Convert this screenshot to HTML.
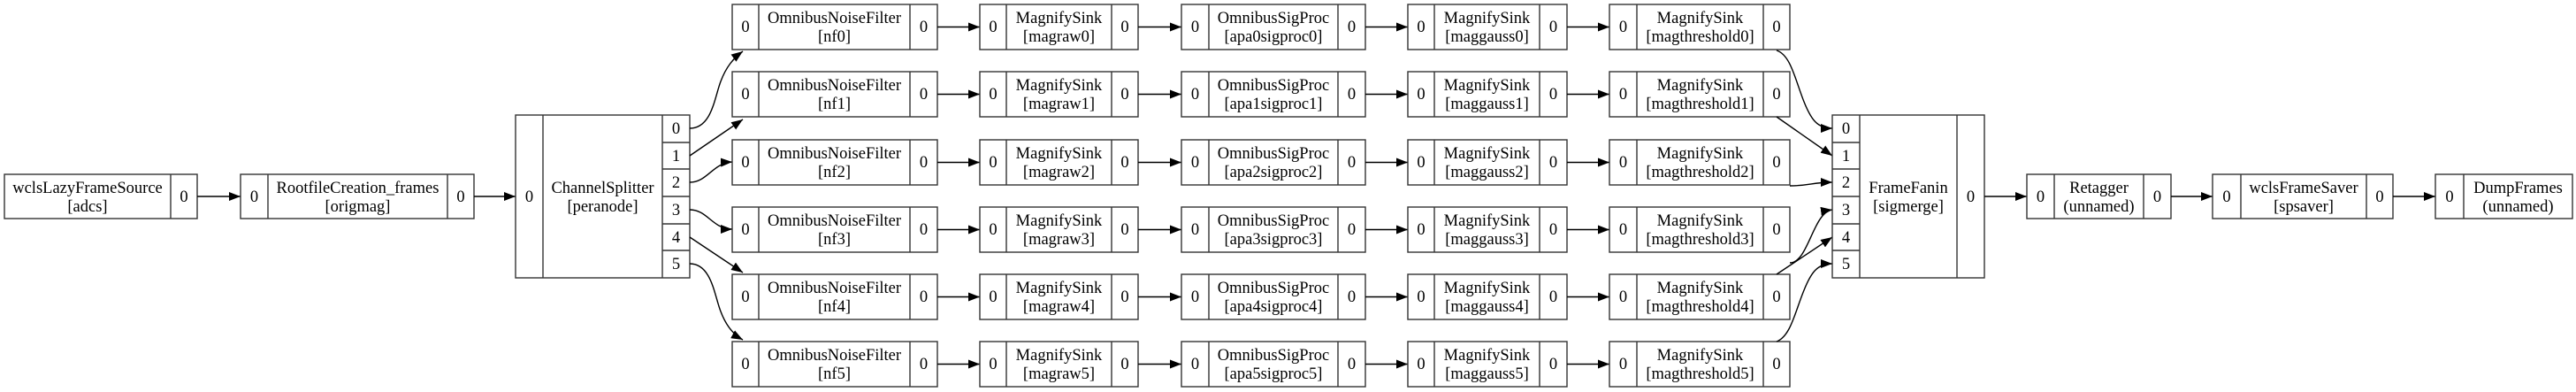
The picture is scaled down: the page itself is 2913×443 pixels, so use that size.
<!DOCTYPE html>
<html><head><meta charset="utf-8"><style>
html,body{margin:0;padding:0;background:#fff;}
svg{display:block;}
text{font-family:"Liberation Serif",serif;font-size:18.5px;fill:#000;text-anchor:middle;}
.b{fill:none;stroke:#333;stroke-width:1.4;}
.e{fill:none;stroke:#000;stroke-width:1.4;marker-end:url(#ah);}
</style></head><body>
<svg width="2913" height="443" viewBox="0 0 2913 443" xmlns="http://www.w3.org/2000/svg">
<defs><marker id="ah" markerUnits="userSpaceOnUse" markerWidth="14" markerHeight="10" refX="13" refY="5" orient="auto"><path d="M0,0 L13,5 L0,10 z" fill="#000"/></marker></defs>

<!-- left nodes -->
<rect class="b" x="5" y="197" width="218" height="50"/><line class="b" x1="193" y1="197" x2="193" y2="247"/>
<text x="99" y="218">wclsLazyFrameSource</text><text x="99" y="239">[adcs]</text><text x="208" y="228">0</text>
<line class="e" x1="223" y1="222" x2="272" y2="222"/>
<rect class="b" x="272" y="197" width="264" height="50"/><line class="b" x1="303" y1="197" x2="303" y2="247"/><line class="b" x1="506" y1="197" x2="506" y2="247"/>
<text x="287.5" y="228">0</text><text x="404.5" y="218">RootfileCreation_frames</text><text x="404.5" y="239">[origmag]</text><text x="521" y="228">0</text>
<line class="e" x1="536" y1="222" x2="583" y2="222"/>
<rect class="b" x="583" y="130" width="197" height="184"/><line class="b" x1="614" y1="130" x2="614" y2="314"/><line class="b" x1="749" y1="130" x2="749" y2="314"/>
<line class="b" x1="749" y1="161" x2="780" y2="161"/><line class="b" x1="749" y1="191" x2="780" y2="191"/><line class="b" x1="749" y1="222" x2="780" y2="222"/><line class="b" x1="749" y1="253" x2="780" y2="253"/><line class="b" x1="749" y1="283" x2="780" y2="283"/>
<text x="598.5" y="228">0</text><text x="681.5" y="218">ChannelSplitter</text><text x="681.5" y="239">[peranode]</text>
<text x="764.5" y="151">0</text><text x="764.5" y="182">1</text><text x="764.5" y="212">2</text><text x="764.5" y="243">3</text><text x="764.5" y="274">4</text><text x="764.5" y="304">5</text>

<!-- splitter edges -->
<path class="e" d="M780,145 C805,145 808,110 815,92 C821,76 829,66 840,58"/>
<path class="e" d="M780,176 L840,135"/>
<path class="e" d="M780,206 C800,206 806,184 828,183"/>
<path class="e" d="M780,237 C800,237 806,259 828,259"/>
<path class="e" d="M780,268 L840,308"/>
<path class="e" d="M780,298 C805,298 808,335 815,352 C821,368 829,378 840,384"/>

<!-- rows -->
<g transform="translate(0,5)">
<rect class="b" x="828" y="0" width="232" height="51"/><line class="b" x1="858" y1="0" x2="858" y2="51"/><line class="b" x1="1029" y1="0" x2="1029" y2="51"/>
<text x="843" y="31">0</text><text x="943.5" y="21">OmnibusNoiseFilter</text><text x="943.5" y="42">[nf0]</text><text x="1044.5" y="31">0</text>
<line class="e" x1="1060" y1="25.5" x2="1108" y2="25.5"/>
<rect class="b" x="1108" y="0" width="179" height="51"/><line class="b" x1="1138" y1="0" x2="1138" y2="51"/><line class="b" x1="1257" y1="0" x2="1257" y2="51"/>
<text x="1123" y="31">0</text><text x="1197.5" y="21">MagnifySink</text><text x="1197.5" y="42">[magraw0]</text><text x="1272" y="31">0</text>
<line class="e" x1="1287" y1="25.5" x2="1336" y2="25.5"/>
<rect class="b" x="1336" y="0" width="208" height="51"/><line class="b" x1="1367" y1="0" x2="1367" y2="51"/><line class="b" x1="1513" y1="0" x2="1513" y2="51"/>
<text x="1351.5" y="31">0</text><text x="1440" y="21">OmnibusSigProc</text><text x="1440" y="42">[apa0sigproc0]</text><text x="1528.5" y="31">0</text>
<line class="e" x1="1544" y1="25.5" x2="1592" y2="25.5"/>
<rect class="b" x="1592" y="0" width="180" height="51"/><line class="b" x1="1622" y1="0" x2="1622" y2="51"/><line class="b" x1="1741" y1="0" x2="1741" y2="51"/>
<text x="1607" y="31">0</text><text x="1681.5" y="21">MagnifySink</text><text x="1681.5" y="42">[maggauss0]</text><text x="1756.5" y="31">0</text>
<line class="e" x1="1772" y1="25.5" x2="1820" y2="25.5"/>
<rect class="b" x="1820" y="0" width="204" height="51"/><line class="b" x1="1851" y1="0" x2="1851" y2="51"/><line class="b" x1="1994" y1="0" x2="1994" y2="51"/>
<text x="1835.5" y="31">0</text><text x="1922.5" y="21">MagnifySink</text><text x="1922.5" y="42">[magthreshold0]</text><text x="2009" y="31">0</text>
</g>
<g transform="translate(0,81)">
<rect class="b" x="828" y="0" width="232" height="51"/><line class="b" x1="858" y1="0" x2="858" y2="51"/><line class="b" x1="1029" y1="0" x2="1029" y2="51"/>
<text x="843" y="31">0</text><text x="943.5" y="21">OmnibusNoiseFilter</text><text x="943.5" y="42">[nf1]</text><text x="1044.5" y="31">0</text>
<line class="e" x1="1060" y1="25.5" x2="1108" y2="25.5"/>
<rect class="b" x="1108" y="0" width="179" height="51"/><line class="b" x1="1138" y1="0" x2="1138" y2="51"/><line class="b" x1="1257" y1="0" x2="1257" y2="51"/>
<text x="1123" y="31">0</text><text x="1197.5" y="21">MagnifySink</text><text x="1197.5" y="42">[magraw1]</text><text x="1272" y="31">0</text>
<line class="e" x1="1287" y1="25.5" x2="1336" y2="25.5"/>
<rect class="b" x="1336" y="0" width="208" height="51"/><line class="b" x1="1367" y1="0" x2="1367" y2="51"/><line class="b" x1="1513" y1="0" x2="1513" y2="51"/>
<text x="1351.5" y="31">0</text><text x="1440" y="21">OmnibusSigProc</text><text x="1440" y="42">[apa1sigproc1]</text><text x="1528.5" y="31">0</text>
<line class="e" x1="1544" y1="25.5" x2="1592" y2="25.5"/>
<rect class="b" x="1592" y="0" width="180" height="51"/><line class="b" x1="1622" y1="0" x2="1622" y2="51"/><line class="b" x1="1741" y1="0" x2="1741" y2="51"/>
<text x="1607" y="31">0</text><text x="1681.5" y="21">MagnifySink</text><text x="1681.5" y="42">[maggauss1]</text><text x="1756.5" y="31">0</text>
<line class="e" x1="1772" y1="25.5" x2="1820" y2="25.5"/>
<rect class="b" x="1820" y="0" width="204" height="51"/><line class="b" x1="1851" y1="0" x2="1851" y2="51"/><line class="b" x1="1994" y1="0" x2="1994" y2="51"/>
<text x="1835.5" y="31">0</text><text x="1922.5" y="21">MagnifySink</text><text x="1922.5" y="42">[magthreshold1]</text><text x="2009" y="31">0</text>
</g>
<g transform="translate(0,158)">
<rect class="b" x="828" y="0" width="232" height="51"/><line class="b" x1="858" y1="0" x2="858" y2="51"/><line class="b" x1="1029" y1="0" x2="1029" y2="51"/>
<text x="843" y="31">0</text><text x="943.5" y="21">OmnibusNoiseFilter</text><text x="943.5" y="42">[nf2]</text><text x="1044.5" y="31">0</text>
<line class="e" x1="1060" y1="25.5" x2="1108" y2="25.5"/>
<rect class="b" x="1108" y="0" width="179" height="51"/><line class="b" x1="1138" y1="0" x2="1138" y2="51"/><line class="b" x1="1257" y1="0" x2="1257" y2="51"/>
<text x="1123" y="31">0</text><text x="1197.5" y="21">MagnifySink</text><text x="1197.5" y="42">[magraw2]</text><text x="1272" y="31">0</text>
<line class="e" x1="1287" y1="25.5" x2="1336" y2="25.5"/>
<rect class="b" x="1336" y="0" width="208" height="51"/><line class="b" x1="1367" y1="0" x2="1367" y2="51"/><line class="b" x1="1513" y1="0" x2="1513" y2="51"/>
<text x="1351.5" y="31">0</text><text x="1440" y="21">OmnibusSigProc</text><text x="1440" y="42">[apa2sigproc2]</text><text x="1528.5" y="31">0</text>
<line class="e" x1="1544" y1="25.5" x2="1592" y2="25.5"/>
<rect class="b" x="1592" y="0" width="180" height="51"/><line class="b" x1="1622" y1="0" x2="1622" y2="51"/><line class="b" x1="1741" y1="0" x2="1741" y2="51"/>
<text x="1607" y="31">0</text><text x="1681.5" y="21">MagnifySink</text><text x="1681.5" y="42">[maggauss2]</text><text x="1756.5" y="31">0</text>
<line class="e" x1="1772" y1="25.5" x2="1820" y2="25.5"/>
<rect class="b" x="1820" y="0" width="204" height="51"/><line class="b" x1="1851" y1="0" x2="1851" y2="51"/><line class="b" x1="1994" y1="0" x2="1994" y2="51"/>
<text x="1835.5" y="31">0</text><text x="1922.5" y="21">MagnifySink</text><text x="1922.5" y="42">[magthreshold2]</text><text x="2009" y="31">0</text>
</g>
<g transform="translate(0,234)">
<rect class="b" x="828" y="0" width="232" height="51"/><line class="b" x1="858" y1="0" x2="858" y2="51"/><line class="b" x1="1029" y1="0" x2="1029" y2="51"/>
<text x="843" y="31">0</text><text x="943.5" y="21">OmnibusNoiseFilter</text><text x="943.5" y="42">[nf3]</text><text x="1044.5" y="31">0</text>
<line class="e" x1="1060" y1="25.5" x2="1108" y2="25.5"/>
<rect class="b" x="1108" y="0" width="179" height="51"/><line class="b" x1="1138" y1="0" x2="1138" y2="51"/><line class="b" x1="1257" y1="0" x2="1257" y2="51"/>
<text x="1123" y="31">0</text><text x="1197.5" y="21">MagnifySink</text><text x="1197.5" y="42">[magraw3]</text><text x="1272" y="31">0</text>
<line class="e" x1="1287" y1="25.5" x2="1336" y2="25.5"/>
<rect class="b" x="1336" y="0" width="208" height="51"/><line class="b" x1="1367" y1="0" x2="1367" y2="51"/><line class="b" x1="1513" y1="0" x2="1513" y2="51"/>
<text x="1351.5" y="31">0</text><text x="1440" y="21">OmnibusSigProc</text><text x="1440" y="42">[apa3sigproc3]</text><text x="1528.5" y="31">0</text>
<line class="e" x1="1544" y1="25.5" x2="1592" y2="25.5"/>
<rect class="b" x="1592" y="0" width="180" height="51"/><line class="b" x1="1622" y1="0" x2="1622" y2="51"/><line class="b" x1="1741" y1="0" x2="1741" y2="51"/>
<text x="1607" y="31">0</text><text x="1681.5" y="21">MagnifySink</text><text x="1681.5" y="42">[maggauss3]</text><text x="1756.5" y="31">0</text>
<line class="e" x1="1772" y1="25.5" x2="1820" y2="25.5"/>
<rect class="b" x="1820" y="0" width="204" height="51"/><line class="b" x1="1851" y1="0" x2="1851" y2="51"/><line class="b" x1="1994" y1="0" x2="1994" y2="51"/>
<text x="1835.5" y="31">0</text><text x="1922.5" y="21">MagnifySink</text><text x="1922.5" y="42">[magthreshold3]</text><text x="2009" y="31">0</text>
</g>
<g transform="translate(0,310)">
<rect class="b" x="828" y="0" width="232" height="51"/><line class="b" x1="858" y1="0" x2="858" y2="51"/><line class="b" x1="1029" y1="0" x2="1029" y2="51"/>
<text x="843" y="31">0</text><text x="943.5" y="21">OmnibusNoiseFilter</text><text x="943.5" y="42">[nf4]</text><text x="1044.5" y="31">0</text>
<line class="e" x1="1060" y1="25.5" x2="1108" y2="25.5"/>
<rect class="b" x="1108" y="0" width="179" height="51"/><line class="b" x1="1138" y1="0" x2="1138" y2="51"/><line class="b" x1="1257" y1="0" x2="1257" y2="51"/>
<text x="1123" y="31">0</text><text x="1197.5" y="21">MagnifySink</text><text x="1197.5" y="42">[magraw4]</text><text x="1272" y="31">0</text>
<line class="e" x1="1287" y1="25.5" x2="1336" y2="25.5"/>
<rect class="b" x="1336" y="0" width="208" height="51"/><line class="b" x1="1367" y1="0" x2="1367" y2="51"/><line class="b" x1="1513" y1="0" x2="1513" y2="51"/>
<text x="1351.5" y="31">0</text><text x="1440" y="21">OmnibusSigProc</text><text x="1440" y="42">[apa4sigproc4]</text><text x="1528.5" y="31">0</text>
<line class="e" x1="1544" y1="25.5" x2="1592" y2="25.5"/>
<rect class="b" x="1592" y="0" width="180" height="51"/><line class="b" x1="1622" y1="0" x2="1622" y2="51"/><line class="b" x1="1741" y1="0" x2="1741" y2="51"/>
<text x="1607" y="31">0</text><text x="1681.5" y="21">MagnifySink</text><text x="1681.5" y="42">[maggauss4]</text><text x="1756.5" y="31">0</text>
<line class="e" x1="1772" y1="25.5" x2="1820" y2="25.5"/>
<rect class="b" x="1820" y="0" width="204" height="51"/><line class="b" x1="1851" y1="0" x2="1851" y2="51"/><line class="b" x1="1994" y1="0" x2="1994" y2="51"/>
<text x="1835.5" y="31">0</text><text x="1922.5" y="21">MagnifySink</text><text x="1922.5" y="42">[magthreshold4]</text><text x="2009" y="31">0</text>
</g>
<g transform="translate(0,386)">
<rect class="b" x="828" y="0" width="232" height="51"/><line class="b" x1="858" y1="0" x2="858" y2="51"/><line class="b" x1="1029" y1="0" x2="1029" y2="51"/>
<text x="843" y="31">0</text><text x="943.5" y="21">OmnibusNoiseFilter</text><text x="943.5" y="42">[nf5]</text><text x="1044.5" y="31">0</text>
<line class="e" x1="1060" y1="25.5" x2="1108" y2="25.5"/>
<rect class="b" x="1108" y="0" width="179" height="51"/><line class="b" x1="1138" y1="0" x2="1138" y2="51"/><line class="b" x1="1257" y1="0" x2="1257" y2="51"/>
<text x="1123" y="31">0</text><text x="1197.5" y="21">MagnifySink</text><text x="1197.5" y="42">[magraw5]</text><text x="1272" y="31">0</text>
<line class="e" x1="1287" y1="25.5" x2="1336" y2="25.5"/>
<rect class="b" x="1336" y="0" width="208" height="51"/><line class="b" x1="1367" y1="0" x2="1367" y2="51"/><line class="b" x1="1513" y1="0" x2="1513" y2="51"/>
<text x="1351.5" y="31">0</text><text x="1440" y="21">OmnibusSigProc</text><text x="1440" y="42">[apa5sigproc5]</text><text x="1528.5" y="31">0</text>
<line class="e" x1="1544" y1="25.5" x2="1592" y2="25.5"/>
<rect class="b" x="1592" y="0" width="180" height="51"/><line class="b" x1="1622" y1="0" x2="1622" y2="51"/><line class="b" x1="1741" y1="0" x2="1741" y2="51"/>
<text x="1607" y="31">0</text><text x="1681.5" y="21">MagnifySink</text><text x="1681.5" y="42">[maggauss5]</text><text x="1756.5" y="31">0</text>
<line class="e" x1="1772" y1="25.5" x2="1820" y2="25.5"/>
<rect class="b" x="1820" y="0" width="204" height="51"/><line class="b" x1="1851" y1="0" x2="1851" y2="51"/><line class="b" x1="1994" y1="0" x2="1994" y2="51"/>
<text x="1835.5" y="31">0</text><text x="1922.5" y="21">MagnifySink</text><text x="1922.5" y="42">[magthreshold5]</text><text x="2009" y="31">0</text>
</g>

<!-- fanin edges -->
<path class="e" d="M2009,57 C2025,62 2030,90 2040,115 C2048,135 2055,145 2072,145"/>
<path class="e" d="M2009,132 L2072,176"/>
<path class="e" d="M2024,210 C2045,210 2050,206 2072,206"/>
<path class="e" d="M2024,297 C2045,297 2050,240 2072,237"/>
<path class="e" d="M2009,310 L2072,268"/>
<path class="e" d="M2009,386 C2025,380 2030,352 2040,328 C2048,308 2055,298 2072,298"/>

<!-- fanin & right -->
<rect class="b" x="2072" y="130" width="172" height="184"/><line class="b" x1="2103" y1="130" x2="2103" y2="314"/><line class="b" x1="2213" y1="130" x2="2213" y2="314"/>
<line class="b" x1="2072" y1="161" x2="2103" y2="161"/><line class="b" x1="2072" y1="191" x2="2103" y2="191"/><line class="b" x1="2072" y1="222" x2="2103" y2="222"/><line class="b" x1="2072" y1="253" x2="2103" y2="253"/><line class="b" x1="2072" y1="283" x2="2103" y2="283"/>
<text x="2087.5" y="151">0</text><text x="2087.5" y="182">1</text><text x="2087.5" y="212">2</text><text x="2087.5" y="243">3</text><text x="2087.5" y="274">4</text><text x="2087.5" y="304">5</text>
<text x="2158" y="218">FrameFanin</text><text x="2158" y="239">[sigmerge]</text><text x="2228.5" y="228">0</text>
<line class="e" x1="2244" y1="222" x2="2292" y2="222"/>
<rect class="b" x="2292" y="197" width="163" height="50"/><line class="b" x1="2323" y1="197" x2="2323" y2="247"/><line class="b" x1="2424" y1="197" x2="2424" y2="247"/>
<text x="2307.5" y="228">0</text><text x="2373.5" y="218">Retagger</text><text x="2373.5" y="239">(unnamed)</text><text x="2439.5" y="228">0</text>
<line class="e" x1="2455" y1="222" x2="2502" y2="222"/>
<rect class="b" x="2502" y="197" width="204" height="50"/><line class="b" x1="2534" y1="197" x2="2534" y2="247"/><line class="b" x1="2676" y1="197" x2="2676" y2="247"/>
<text x="2518" y="228">0</text><text x="2605" y="218">wclsFrameSaver</text><text x="2605" y="239">[spsaver]</text><text x="2691" y="228">0</text>
<line class="e" x1="2706" y1="222" x2="2754" y2="222"/>
<rect class="b" x="2754" y="197" width="155" height="50"/><line class="b" x1="2786" y1="197" x2="2786" y2="247"/>
<text x="2770" y="228">0</text><text x="2847.5" y="218">DumpFrames</text><text x="2847.5" y="239">(unnamed)</text>
</svg>
</body></html>
